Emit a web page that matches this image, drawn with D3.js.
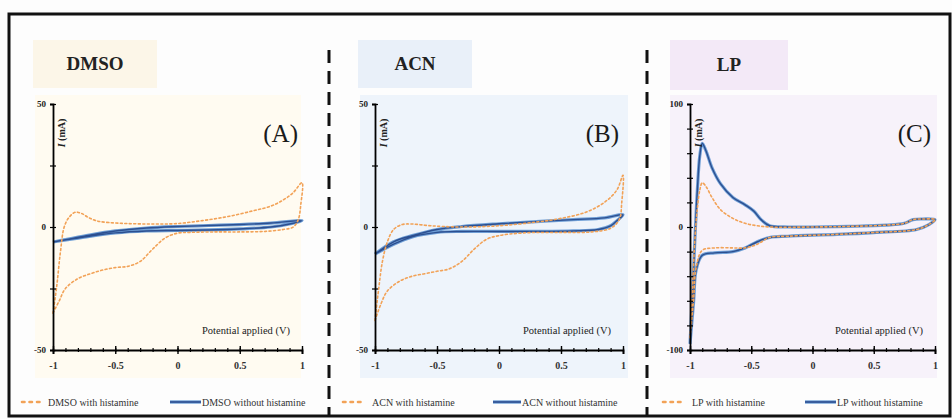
<!DOCTYPE html>
<html>
<head>
<meta charset="utf-8">
<script src="https://cdn.jsdelivr.net/npm/d3@7"></script>
<style>
  body { margin: 0; background: #fff; }
  svg { display: block; font-family: "Liberation Serif", "Times New Roman", serif; }
</style>
</head>
<body>
<svg id="chart" width="952" height="419"></svg>
<script>
// ---- data ----
const potentialTicks = [-1, -0.5, 0, 0.5, 1];
const solventNames = ['DMSO', 'ACN', 'LP'];
const panelLetters = ['(A)', '(B)', '(C)'];
const currentLimits = [50, 50, 100];
const currentTickStep = [25, 25, 20];
const withLabels = ['DMSO with histamine', 'ACN with histamine', 'LP with histamine'];
const withoutLabels = ['DMSO without histamine', 'ACN without histamine', 'LP without histamine'];

// [potential (V), current (mA)] : forward sweep then reverse sweep
const dmsoWith = [
  [-1, -35], [-0.97, -24], [-0.94, -10], [-0.91, 0], [-0.87, 4], [-0.82, 6], [-0.77, 5.5],
  [-0.72, 4], [-0.65, 2.5], [-0.55, 1.8], [-0.4, 1.4], [-0.2, 1.2], [0, 1.4], [0.2, 2.6],
  [0.4, 4.2], [0.6, 6.5], [0.75, 8.5], [0.85, 11], [0.93, 14], [1, 18],
  [0.99, 9], [0.97, 3], [0.93, 0], [0.85, -1], [0.7, -1.8], [0.5, -2], [0.3, -2], [0.1, -2.2],
  [0, -2.5], [-0.1, -4.5], [-0.2, -9], [-0.3, -14], [-0.4, -16], [-0.5, -16.5], [-0.6, -17.5],
  [-0.7, -19], [-0.8, -21], [-0.9, -25], [-0.95, -30], [-1, -35]
];
const dmsoWithout = [
  [-1, -6.1], [-0.75, -3.7], [-0.5, -1.6], [-0.25, -0.4], [0, 0.2], [0.25, 0.6], [0.5, 1.0],
  [0.75, 1.6], [1, 2.6],
  [0.9, 1.2], [0.75, 0], [0.5, -0.8], [0.25, -1.2], [0, -1.4], [-0.25, -1.6], [-0.5, -2.4],
  [-0.75, -4.1], [-1, -6.1]
];
const acnWith = [
  [-1, -38], [-0.97, -25], [-0.94, -14], [-0.9, -6], [-0.85, -1], [-0.78, 1], [-0.7, 1.2],
  [-0.55, 0.5], [-0.3, 0], [0, 0.5], [0.3, 2], [0.5, 3.5], [0.7, 6], [0.85, 10], [0.95, 15], [1, 21],
  [0.99, 10], [0.97, 3], [0.9, -0.5], [0.75, -2], [0.5, -2.2], [0.2, -2.4], [0, -3.5], [-0.1, -5],
  [-0.2, -9], [-0.3, -14], [-0.4, -17], [-0.5, -18], [-0.6, -19], [-0.7, -20], [-0.8, -22],
  [-0.9, -26], [-0.95, -31], [-1, -38]
];
const acnWithout = [
  [-1, -11], [-0.85, -6], [-0.7, -3.5], [-0.5, -1], [-0.3, 0.2], [0, 1.3], [0.3, 2.2], [0.6, 3],
  [0.85, 3.7], [1, 5],
  [0.95, 2.5], [0.9, 0.5], [0.8, -1], [0.6, -1.6], [0.3, -1.8], [0, -1.8], [-0.3, -1.8],
  [-0.5, -2.2], [-0.7, -4], [-0.85, -7], [-1, -11]
];
const lpWith = [
  [-1, -90], [-0.98, -50], [-0.96, -10], [-0.94, 15], [-0.92, 30], [-0.9, 36], [-0.87, 33],
  [-0.82, 24], [-0.75, 14], [-0.65, 7], [-0.55, 3], [-0.45, 1], [-0.35, 0], [0, 0], [0.3, 0.5],
  [0.6, 1.5], [0.75, 3], [0.82, 6], [0.9, 6.5], [1, 6],
  [0.95, 2], [0.85, -2], [0.5, -4.5], [0.2, -6], [-0.2, -7.5], [-0.35, -8.5], [-0.45, -14],
  [-0.55, -17], [-0.65, -17], [-0.8, -17], [-0.9, -19], [-0.95, -33], [-0.97, -58], [-1, -90]
];
const lpWithout = [
  [-1, -95], [-0.98, -55], [-0.96, -10], [-0.94, 30], [-0.92, 58], [-0.9, 68], [-0.87, 62],
  [-0.82, 48], [-0.75, 35], [-0.65, 24], [-0.55, 18], [-0.48, 13], [-0.42, 6], [-0.35, 1],
  [-0.2, 0], [0, 0], [0.3, 0.5], [0.6, 1.5], [0.75, 3], [0.82, 6], [0.9, 6.5], [1, 6],
  [0.95, 2], [0.85, -2], [0.5, -4.5], [0.2, -6], [-0.2, -7.5], [-0.35, -8.5], [-0.45, -12],
  [-0.55, -17], [-0.65, -20], [-0.8, -21], [-0.9, -23], [-0.95, -35], [-0.97, -60], [-1, -95]
];
const withSeries = [dmsoWith, acnWith, lpWith];
const withoutSeries = [dmsoWithout, acnWithout, lpWithout];

// ---- layout ----
const layout = [
  { ax0: 53, ax1: 302, box: [33, 40, 124, 48], bg: [35, 95, 266, 283], boxFill: '#fcf6e8', bgFill: '#fffbf1',
    leg: [22, 48, 170, 201] },
  { ax0: 375, ax1: 623, box: [358, 40, 114, 48], bg: [360, 95, 268, 283], boxFill: '#e9f0f9', bgFill: '#eef4fb',
    leg: [343, 372, 493, 521] },
  { ax0: 690, ax1: 935, box: [670, 40, 118, 50], bg: [670, 95, 267, 283], boxFill: '#f3e9f7', bgFill: '#f7f2fa',
    leg: [663, 692, 805, 836] }
];
const yTop = 104, yBottom = 350, legendY = 402;
const orange = '#f2a257', blueDark = '#2c4f90', blueLight = '#6f9fd6';

const svg = d3.select('#chart');

svg.append('rect').attr('width', 952).attr('height', 419).attr('fill', '#fdfdfd');

layout.forEach((p, i) => {
  const g = svg.append('g');

  g.append('rect').attr('x', p.bg[0]).attr('y', p.bg[1]).attr('width', p.bg[2]).attr('height', p.bg[3])
    .attr('fill', p.bgFill);
  g.append('rect').attr('x', p.box[0]).attr('y', p.box[1]).attr('width', p.box[2]).attr('height', p.box[3])
    .attr('fill', p.boxFill);
  g.append('text')
    .attr('x', p.box[0] + p.box[2] / 2).attr('y', p.box[1] + p.box[3] / 2 + 6)
    .attr('text-anchor', 'middle').style('font-size', '19px').style('font-weight', 'bold')
    .attr('fill', '#222').text(solventNames[i]);

  const lim = currentLimits[i];
  const x = d3.scaleLinear().domain([-1, 1]).range([p.ax0, p.ax1]);
  const y = d3.scaleLinear().domain([-lim, lim]).range([yBottom, yTop]);

  // curves
  const line = d3.line().x(d => x(d[0])).y(d => y(d[1])).curve(d3.curveCatmullRom.alpha(0.5));
  g.append('path').attr('d', line(withoutSeries[i])).attr('fill', 'none')
    .attr('stroke', blueLight).attr('stroke-width', 3.2).attr('stroke-linejoin', 'round');
  g.append('path').attr('d', line(withoutSeries[i])).attr('fill', 'none')
    .attr('stroke', blueDark).attr('stroke-width', 1.4).attr('stroke-linejoin', 'round');
  g.append('path').attr('d', line(withSeries[i])).attr('fill', 'none')
    .attr('stroke', orange).attr('stroke-width', 1.6).attr('stroke-dasharray', '2,2.5')
    .attr('stroke-linecap', 'round');

  // x axis: minor then major ticks
  const xMinor = g.append('g').attr('transform', `translate(0,${yBottom})`)
    .call(d3.axisBottom(x).tickValues(d3.range(-10, 11).map(d => d / 10)).tickSize(2).tickFormat(''));
  xMinor.select('.domain').remove();
  xMinor.selectAll('.tick line').attr('y1', -2).attr('stroke-width', 1.2);

  const xAxis = g.append('g').attr('transform', `translate(0,${yBottom})`)
    .call(d3.axisBottom(x).tickValues(potentialTicks).tickSize(4).tickPadding(8)
      .tickFormat(d => String(d)));
  xAxis.select('.domain').attr('stroke-width', 1.8);
  xAxis.selectAll('.tick line').attr('y1', -4).attr('stroke-width', 1.4);
  xAxis.selectAll('text').style('font-size', '10px').style('font-family', 'Liberation Serif')
    .style('font-weight', 'bold').attr('fill', '#333');

  // y axis
  const yTicks = d3.range(-lim, lim + 0.001, currentTickStep[i]);
  const yAxis = g.append('g').attr('transform', `translate(${p.ax0},0)`)
    .call(d3.axisLeft(y).tickValues(yTicks).tickSize(3).tickPadding(4)
      .tickFormat(d => (d === -lim || d === 0 || d === lim) ? String(d) : ''));
  yAxis.select('.domain').attr('stroke-width', 1.8);
  yAxis.selectAll('.tick line').attr('x1', 3).attr('stroke-width', 1.2);
  yAxis.selectAll('text').style('font-size', '9px').style('font-family', 'Liberation Serif')
    .style('font-weight', 'bold').attr('fill', '#222');

  // axis titles
  g.append('text')
    .attr('transform', `translate(${p.ax0 + 12},${yTop + 29}) rotate(-90)`)
    .attr('text-anchor', 'middle').style('font-size', '10px').style('font-weight', 'bold')
    .attr('fill', '#222')
    .html('<tspan font-style="italic">I</tspan> (mA)');

  g.append('text')
    .attr('x', p.ax1 - 12).attr('y', yBottom - 16)
    .attr('text-anchor', 'end').style('font-size', '10px').attr('fill', '#222')
    .attr('textLength', 88).attr('lengthAdjust', 'spacingAndGlyphs')
    .text('Potential applied (V)');

  g.append('text')
    .attr('x', p.ax1 - 4).attr('y', yTop + 38)
    .attr('text-anchor', 'end').style('font-size', '25px').attr('fill', '#1a1a1a')
    .text(panelLetters[i]);

  // legend
  const lg = g.append('g');
  lg.append('line').attr('x1', p.leg[0]).attr('x2', p.leg[0] + 22)
    .attr('y1', legendY).attr('y2', legendY)
    .attr('stroke', orange).attr('stroke-width', 2.6).attr('stroke-dasharray', '2.5,5')
    .attr('stroke-linecap', 'round');
  lg.append('text').attr('x', p.leg[1]).attr('y', legendY + 4)
    .style('font-size', '10px').attr('fill', '#333').text(withLabels[i]);
  lg.append('line').attr('x1', p.leg[2]).attr('x2', p.leg[3])
    .attr('y1', legendY).attr('y2', legendY)
    .attr('stroke', blueLight).attr('stroke-width', 3.4);
  lg.append('line').attr('x1', p.leg[2]).attr('x2', p.leg[3])
    .attr('y1', legendY).attr('y2', legendY)
    .attr('stroke', blueDark).attr('stroke-width', 1.6);
  lg.append('text').attr('x', p.leg[3] + 1).attr('y', legendY + 4)
    .style('font-size', '10px').attr('fill', '#333').text(withoutLabels[i]);
});

// separators and frame
[329, 647].forEach(sx => {
  svg.append('line').attr('x1', sx).attr('x2', sx).attr('y1', 50).attr('y2', 416)
    .attr('stroke', '#111').attr('stroke-width', 3).attr('stroke-dasharray', '13,8');
});
svg.append('rect').attr('x', 9).attr('y', 14).attr('width', 941).attr('height', 402)
  .attr('fill', 'none').attr('stroke', '#111').attr('stroke-width', 3);
</script>
</body>
</html>
